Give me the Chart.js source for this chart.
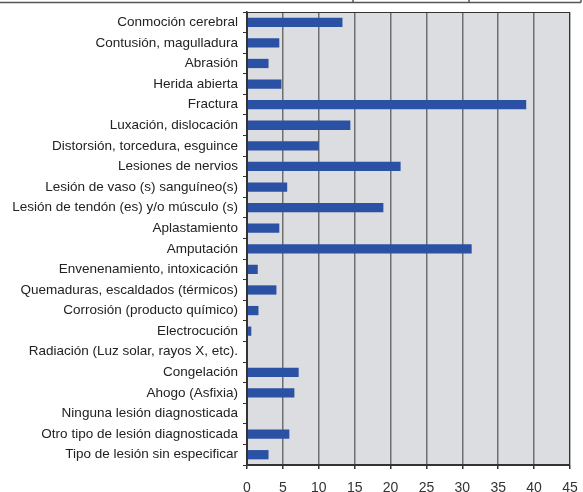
<!DOCTYPE html>
<html>
<head>
<meta charset="utf-8">
<script src="https://cdn.jsdelivr.net/npm/chart.js@4/dist/chart.umd.min.js"></script>
<style>
  html, body { margin: 0; padding: 0; background: #fff; }
  #wrap { width: 583px; height: 492px; position: relative; }
</style>
</head>
<body>
<div id="wrap"><canvas id="myChart"></canvas></div>
<script>
let categorias = [
    'Conmoción cerebral',
    'Contusión, magulladura',
    'Abrasión',
    'Herida abierta',
    'Fractura',
    'Luxación, dislocación',
    'Distorsión, torcedura, esguince',
    'Lesiones de nervios',
    'Lesión de vaso (s) sanguíneo(s)',
    'Lesión de tendón (es) y/o músculo (s)',
    'Aplastamiento',
    'Amputación',
    'Envenenamiento, intoxicación',
    'Quemaduras, escaldados (térmicos)',
    'Corrosión (producto químico)',
    'Electrocución',
    'Radiación (Luz solar, rayos X, etc).',
    'Congelación',
    'Ahogo (Asfixia)',
    'Ninguna lesión diagnosticada',
    'Otro tipo de lesión diagnosticada',
    'Tipo de lesión sin especificar'
];

let valores = [13.3, 4.5, 3.0, 4.8, 38.9, 14.4, 10.0, 21.4, 5.6, 19.0, 4.5, 31.3,
    1.5, 4.1, 1.6, 0.6, 0, 7.2, 6.6, 0, 5.9, 3.0];

let ejeMin = 0;
let ejeMax = 45;
let ejePaso = 5;

// fondo gris del area y marco
let fondo = {
    id: 'fondo',
    beforeDraw(chart) {
        let a = chart.chartArea;
        let c = chart.ctx;
        c.save();
        c.fillStyle = '#dcdde0';
        c.fillRect(a.left, a.top, a.right - a.left, a.bottom - a.top);
        // linea de la tabla de arriba
        c.strokeStyle = '#555';
        c.lineWidth = 1.5;
        c.beginPath();
        c.moveTo(0, 2.5); c.lineTo(581, 2.5);
        c.moveTo(353, 0); c.lineTo(353, 2.5);
        c.moveTo(469, 0); c.lineTo(469, 2.5);
        c.moveTo(581, 0); c.lineTo(581, 2.5);
        c.stroke();
        c.restore();
    },
    afterDatasetsDraw(chart) {
        let a = chart.chartArea;
        let c = chart.ctx;
        c.save();
        c.strokeStyle = '#333';
        c.lineWidth = 1;
        c.strokeRect(a.left + 0.5, a.top + 0.5, a.right - a.left - 1, a.bottom - a.top - 1);
        c.restore();
    }
};

let ctx = document.getElementById('myChart');

let myChart = new Chart(ctx, {
    type: 'bar',
    data: {
        labels: categorias,
        datasets: [{
            data: valores,
            backgroundColor: '#2a51a3',
            barPercentage: 0.9,
            categoryPercentage: 0.5
        }]
    },
    options: {
        indexAxis: 'y',
        responsive: true,
        maintainAspectRatio: false,
        animation: false,
        layout: { padding: { top: 12, right: 13, left: 0, bottom: 0 } },
        plugins: {
            legend: { display: false },
            tooltip: { enabled: false }
        },
        scales: {
            x: {
                min: ejeMin,
                max: ejeMax,
                ticks: {
                    stepSize: ejePaso,
                    color: '#333',
                    padding: 11,
                    font: { family: 'Liberation Sans', size: 14 }
                },
                grid: {
                    color: '#6f6f6f',
                    lineWidth: 1.5,
                    tickColor: '#333',
                    tickLength: 4
                },
                border: { color: '#333', width: 1 },
                afterFit(scale) {
                    scale.height = 27;
                    scale.paddingLeft = 0;
                    scale.paddingRight = 0;
                }
            },
            y: {
                ticks: {
                    color: '#222',
                    padding: 5,
                    autoSkip: false,
                    font: { family: 'Liberation Sans', size: 13.5 }
                },
                grid: {
                    drawOnChartArea: false,
                    tickColor: '#333',
                    tickLength: 4,
                    offset: true
                },
                border: { color: '#333', width: 1.5 },
                afterFit(scale) {
                    scale.width = 247;
                    scale.paddingTop = 0;
                    scale.paddingBottom = 0;
                }
            }
        }
    },
    plugins: [fondo]
});
</script>
</body>
</html>
